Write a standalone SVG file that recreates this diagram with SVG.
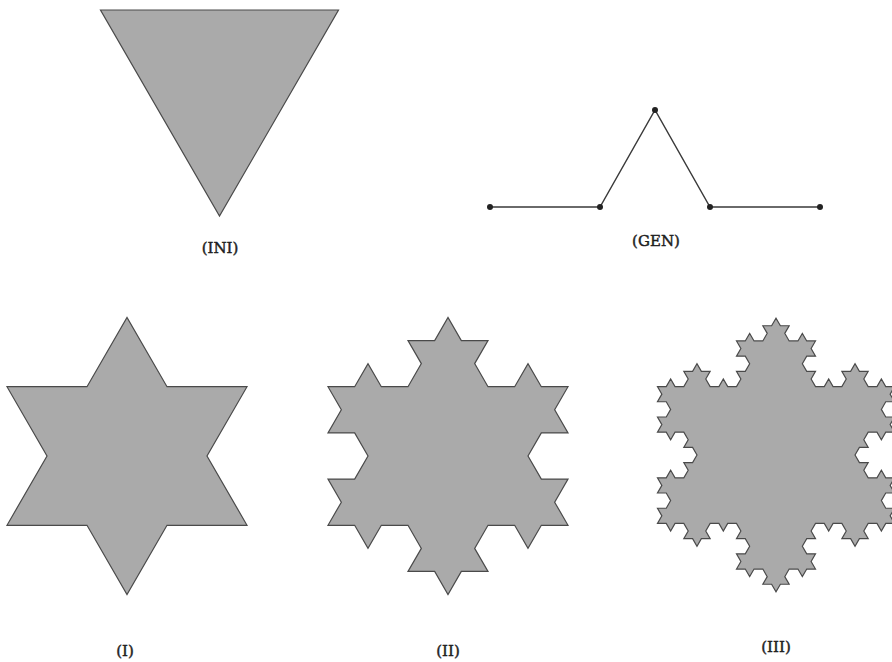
<svg xmlns="http://www.w3.org/2000/svg" width="892" height="662" viewBox="0 0 892 662">
<style>
.shape{fill:#aaaaaa;stroke:#4a4a4a;stroke-linejoin:miter}
.gen{fill:none;stroke:#3a3a3a;stroke-width:1.4}
.dot{fill:#222}
.lbl{font-family:"DejaVu Serif","Liberation Serif",serif;font-size:15px;fill:#1e1e1e;stroke:#1e1e1e;stroke-width:0.45;text-anchor:middle}
</style>
<rect width="892" height="662" fill="#ffffff"/>
<g id="ini">
<polygon class="shape" stroke-width="1.2" points="100.5,10 338.5,10 219.5,216.1"/>
<text class="lbl" x="220" y="253">(INI)</text>
</g>
<g id="gen">
<polyline class="gen" points="490,207 600,207 655,110 710,207 820,207"/>
<circle class="dot" cx="490" cy="207" r="3"/>
<circle class="dot" cx="600" cy="207" r="3"/>
<circle class="dot" cx="655" cy="110" r="3"/>
<circle class="dot" cx="710" cy="207" r="3"/>
<circle class="dot" cx="820" cy="207" r="3"/>
<text class="lbl" x="656" y="246">(GEN)</text>
</g>
<g id="level1">
<path class="shape" stroke-width="0.135" transform="translate(127,456) scale(8.8889)" d="M-13.5 -7.79423 l9 0 4.5 -7.79423 4.5 7.79423 9 0 -4.5 7.79423 4.5 7.79423 -9 0 -4.5 7.79423 -4.5 -7.79423 -9 0 4.5 -7.79423 -4.5 -7.79423z"/>
<text class="lbl" x="125" y="656">(I)</text>
</g>
<g id="level2">
<path class="shape" stroke-width="0.135" transform="translate(448,456) scale(8.8889)" d="M-13.5 -7.79423 l
3 0 1.5 -2.59808 1.5 2.59808 3 0
1.5 -2.59808 -1.5 -2.59808 3 0 1.5 -2.59808
1.5 2.59808 3 0 -1.5 2.59808 1.5 2.59808
3 0 1.5 -2.59808 1.5 2.59808 3 0
-1.5 2.59808 1.5 2.59808 -3 0 -1.5 2.59808
1.5 2.59808 3 0 -1.5 2.59808 1.5 2.59808
-3 0 -1.5 2.59808 -1.5 -2.59808 -3 0
-1.5 2.59808 1.5 2.59808 -3 0 -1.5 2.59808
-1.5 -2.59808 -3 0 1.5 -2.59808 -1.5 -2.59808
-3 0 -1.5 2.59808 -1.5 -2.59808 -3 0
1.5 -2.59808 -1.5 -2.59808 3 0 1.5 -2.59808
-1.5 -2.59808 -3 0 1.5 -2.59808 -1.5 -2.59808
z"/>
<text class="lbl" x="448" y="656">(II)</text>
</g>
<g id="level3">
<path class="shape" stroke-width="0.135" transform="translate(776,455) scale(8.78)" d="M-13.5 -7.79423 l
1 0 .5 -.86603 .5 .86603 1 0
.5 -.86603 -.5 -.86603 1 0 .5 -.86603
.5 .86603 1 0 -.5 .86603 .5 .86603
1 0 .5 -.86603 .5 .86603 1 0
.5 -.86603 -.5 -.86603 1 0 .5 -.86603
-.5 -.86603 -1 0 .5 -.86603 -.5 -.86603
1 0 .5 -.86603 .5 .86603 1 0
.5 -.86603 -.5 -.86603 1 0 .5 -.86603
.5 .86603 1 0 -.5 .86603 .5 .86603
1 0 .5 -.86603 .5 .86603 1 0
-.5 .86603 .5 .86603 -1 0 -.5 .86603
.5 .86603 1 0 -.5 .86603 .5 .86603
1 0 .5 -.86603 .5 .86603 1 0
.5 -.86603 -.5 -.86603 1 0 .5 -.86603
.5 .86603 1 0 -.5 .86603 .5 .86603
1 0 .5 -.86603 .5 .86603 1 0
-.5 .86603 .5 .86603 -1 0 -.5 .86603
.5 .86603 1 0 -.5 .86603 .5 .86603
-1 0 -.5 .86603 -.5 -.86603 -1 0
-.5 .86603 .5 .86603 -1 0 -.5 .86603
.5 .86603 1 0 -.5 .86603 .5 .86603
1 0 .5 -.86603 .5 .86603 1 0
-.5 .86603 .5 .86603 -1 0 -.5 .86603
.5 .86603 1 0 -.5 .86603 .5 .86603
-1 0 -.5 .86603 -.5 -.86603 -1 0
-.5 .86603 .5 .86603 -1 0 -.5 .86603
-.5 -.86603 -1 0 .5 -.86603 -.5 -.86603
-1 0 -.5 .86603 -.5 -.86603 -1 0
-.5 .86603 .5 .86603 -1 0 -.5 .86603
.5 .86603 1 0 -.5 .86603 .5 .86603
-1 0 -.5 .86603 -.5 -.86603 -1 0
-.5 .86603 .5 .86603 -1 0 -.5 .86603
-.5 -.86603 -1 0 .5 -.86603 -.5 -.86603
-1 0 -.5 .86603 -.5 -.86603 -1 0
.5 -.86603 -.5 -.86603 1 0 .5 -.86603
-.5 -.86603 -1 0 .5 -.86603 -.5 -.86603
-1 0 -.5 .86603 -.5 -.86603 -1 0
-.5 .86603 .5 .86603 -1 0 -.5 .86603
-.5 -.86603 -1 0 .5 -.86603 -.5 -.86603
-1 0 -.5 .86603 -.5 -.86603 -1 0
.5 -.86603 -.5 -.86603 1 0 .5 -.86603
-.5 -.86603 -1 0 .5 -.86603 -.5 -.86603
1 0 .5 -.86603 .5 .86603 1 0
.5 -.86603 -.5 -.86603 1 0 .5 -.86603
-.5 -.86603 -1 0 .5 -.86603 -.5 -.86603
-1 0 -.5 .86603 -.5 -.86603 -1 0
.5 -.86603 -.5 -.86603 1 0 .5 -.86603
-.5 -.86603 -1 0 .5 -.86603 -.5 -.86603
z"/>
<text class="lbl" x="776" y="652">(III)</text>
</g>
</svg>
